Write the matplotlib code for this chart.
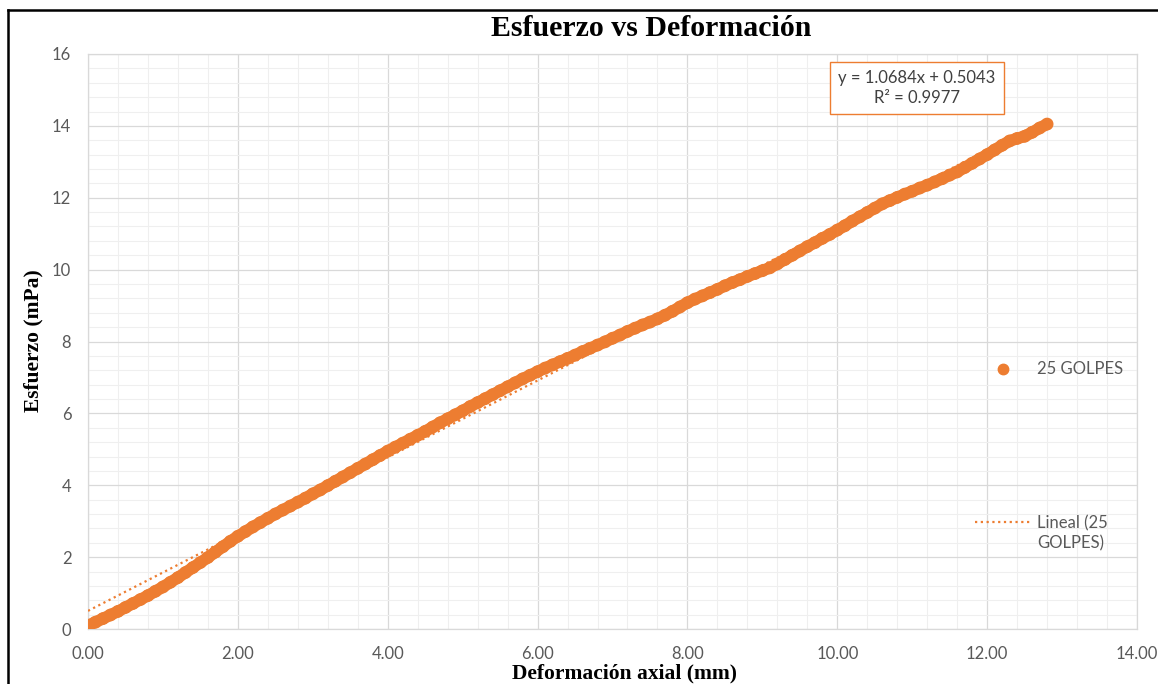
import matplotlib
matplotlib.use("Agg")
import matplotlib.pyplot as plt
from matplotlib.lines import Line2D
from matplotlib.ticker import MultipleLocator, FormatStrFormatter

# Ensayo 25 golpes: deformación axial (mm) vs esfuerzo
deformacion = [
    0.0, 0.1, 0.2, 0.3, 0.4, 0.5, 0.6, 0.7, 0.8, 0.9,
    1.0, 1.1, 1.2, 1.3, 1.4, 1.5, 1.6, 1.7, 1.8, 1.9,
    2.0, 2.1, 2.2, 2.3, 2.4, 2.5, 2.6, 2.7, 2.8, 2.9,
    3.0, 3.1, 3.2, 3.3, 3.4, 3.5, 3.6, 3.7, 3.8, 3.9,
    4.0, 4.1, 4.2, 4.3, 4.4, 4.5, 4.6, 4.7, 4.8, 4.9,
    5.0, 5.1, 5.2, 5.3, 5.4, 5.5, 5.6, 5.7, 5.8, 5.9,
    6.0, 6.1, 6.2, 6.3, 6.4, 6.5, 6.6, 6.7, 6.8, 6.9,
    7.0, 7.1, 7.2, 7.3, 7.4, 7.5, 7.6, 7.7, 7.8, 7.9,
    8.0, 8.1, 8.2, 8.3, 8.4, 8.5, 8.6, 8.7, 8.8, 8.9,
    9.0, 9.1, 9.2, 9.3, 9.4, 9.5, 9.6, 9.7, 9.8, 9.9,
    10.0, 10.1, 10.2, 10.3, 10.4, 10.5, 10.6, 10.7, 10.8, 10.9,
    11.0, 11.1, 11.2, 11.3, 11.4, 11.5, 11.6, 11.7, 11.8, 11.9,
    12.0, 12.1, 12.2, 12.3, 12.4, 12.5, 12.6, 12.7, 12.8,
]
esfuerzo = [
    0.10, 0.19, 0.29, 0.39, 0.49, 0.60, 0.71, 0.82, 0.93, 1.05,
    1.17, 1.30, 1.43, 1.57, 1.71, 1.85, 1.99, 2.14, 2.29, 2.44,
    2.58, 2.71, 2.84, 2.96, 3.08, 3.20, 3.31, 3.42, 3.53, 3.64,
    3.76, 3.87, 3.99, 4.11, 4.23, 4.35, 4.47, 4.59, 4.71, 4.83,
    4.95, 5.06, 5.17, 5.28, 5.39, 5.50, 5.62, 5.74, 5.85, 5.96,
    6.07, 6.19, 6.30, 6.41, 6.52, 6.63, 6.74, 6.85, 6.96, 7.06,
    7.16, 7.26, 7.35, 7.44, 7.53, 7.62, 7.72, 7.81, 7.90, 7.99,
    8.09, 8.18, 8.28, 8.37, 8.46, 8.54, 8.63, 8.73, 8.84, 8.96,
    9.08, 9.18, 9.27, 9.36, 9.45, 9.55, 9.64, 9.72, 9.81, 9.89,
    9.97, 10.05, 10.16, 10.28, 10.40, 10.52, 10.64, 10.75, 10.87, 10.98,
    11.10, 11.22, 11.35, 11.47, 11.59, 11.71, 11.83, 11.92, 12.01, 12.10,
    12.18, 12.27, 12.35, 12.44, 12.53, 12.63, 12.72, 12.84, 12.96, 13.08,
    13.20, 13.33, 13.46, 13.58, 13.65, 13.71, 13.82, 13.94, 14.05,
]

# línea de tendencia (ajuste lineal)
pendiente = 1.0684
intercepto = 0.5043
r2 = 0.9977
serie = "25 GOLPES"

naranja = "#ED7D31"
gris_txt = "#595959"
tick_font = "Lato"
serif = "Liberation Serif"

fig = plt.figure(figsize=(11.58, 6.84), dpi=100)
ax = fig.add_axes([88 / 1158, 55 / 684, 1049 / 1158, 575 / 684])

# puntos (muy densos, forman una banda continua) y tendencia
ax.plot(deformacion, esfuerzo, color=naranja, lw=8.5,
        solid_capstyle="round", solid_joinstyle="round", zorder=3)
ax.scatter(deformacion, esfuerzo, s=85, color=naranja, edgecolors="none", zorder=3)
x_fin = deformacion[-1]
ax.plot([0, x_fin], [intercepto, pendiente * x_fin + intercepto],
        color=naranja, lw=1.6, linestyle=(0, (1, 1.6)), zorder=4)

ax.set_xlim(0, 14)
ax.set_ylim(0, 16)
ax.xaxis.set_major_locator(MultipleLocator(2))
ax.xaxis.set_minor_locator(MultipleLocator(0.4))
ax.yaxis.set_major_locator(MultipleLocator(2))
ax.yaxis.set_minor_locator(MultipleLocator(0.4))
ax.xaxis.set_major_formatter(FormatStrFormatter("%.2f"))

ax.grid(which="major", color="#D9D9D9", lw=0.9, zorder=0)
ax.grid(which="minor", color="#EFEFEF", lw=0.8, zorder=0)
ax.set_axisbelow(True)
for s in ax.spines.values():
    s.set_color("#D9D9D9")
    s.set_linewidth(0.9)

ax.tick_params(which="both", length=0)
ax.tick_params(axis="x", pad=12, labelsize=12, labelcolor=gris_txt)
ax.tick_params(axis="y", pad=12, labelsize=12, labelcolor=gris_txt)
for lab in ax.get_xticklabels() + ax.get_yticklabels():
    lab.set_family(tick_font)

# ecuación del ajuste
ax.text(0.790, 0.941,
        f"y = {pendiente:.4f}x + {intercepto:.4f}\nR² = {r2:.4f}",
        transform=ax.transAxes, ha="center", va="center", fontsize=12,
        family=tick_font, color="#404040", linespacing=1.3, zorder=5,
        bbox=dict(boxstyle="square,pad=0.5", fc="white", ec=naranja, lw=1.0))

# leyenda
ax.plot([0.872], [0.452], "o", ms=7.5, color=naranja, transform=ax.transAxes,
        clip_on=False, zorder=5)
ax.text(0.905, 0.452, serie, transform=ax.transAxes, ha="left", va="center",
        fontsize=12, family=tick_font, color=gris_txt)
ax.plot([0.846, 0.898], [0.186, 0.186], color=naranja, lw=1.6,
        linestyle=(0, (1, 1.6)), transform=ax.transAxes, zorder=5)
ax.text(0.905, 0.167, "Lineal (25\nGOLPES)", transform=ax.transAxes,
        ha="left", va="center", fontsize=12, family=tick_font, color=gris_txt,
        linespacing=1.3)

# títulos
fig.text(651.5 / 1158, 1 - 28 / 684, "Esfuerzo vs Deformación", ha="center",
         va="center", fontsize=21.5, fontweight="bold", family=serif)
fig.text(624 / 1158, 1 - 673 / 684, "Deformación axial (mm)", ha="center",
         va="center", fontsize=15.5, fontweight="bold", family=serif)
fig.text(33 / 1158, 1 - 341 / 684, "Esfuerzo (mPa)", ha="center",
         va="center", rotation=90, fontsize=15.5, fontweight="bold", family=serif)

# marco negro superior e izquierdo
fig.add_artist(Line2D([8 / 1158, 1], [1 - 10 / 684, 1 - 10 / 684],
                      color="black", lw=1.8, transform=fig.transFigure))
fig.add_artist(Line2D([8 / 1158, 8 / 1158], [0, 1 - 10 / 684],
                      color="black", lw=1.8, transform=fig.transFigure))

fig.savefig("out.png", dpi=100, facecolor="white")
